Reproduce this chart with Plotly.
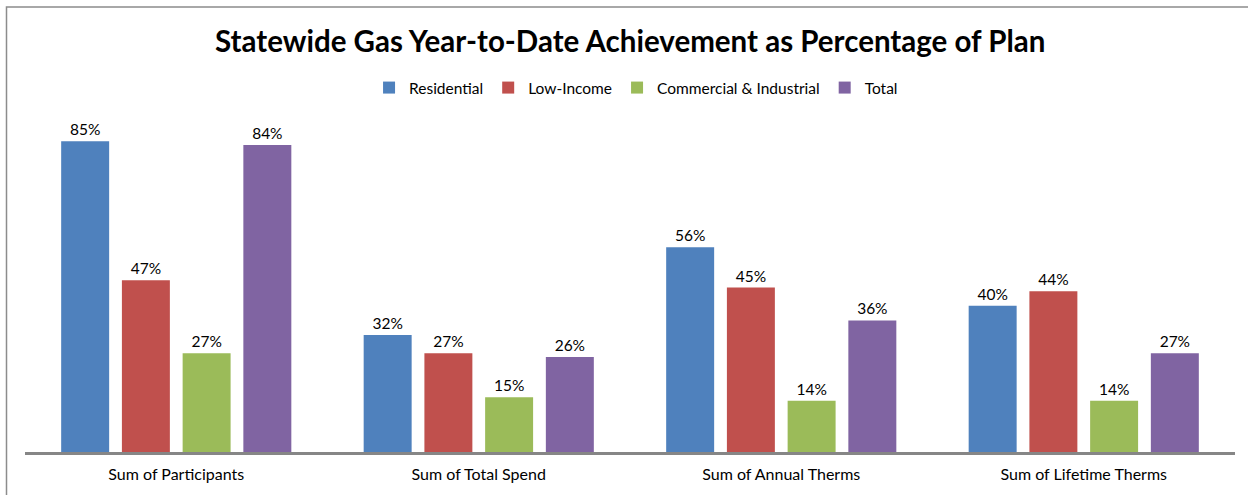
import plotly.graph_objects as go

categories = ["Sum of Participants", "Sum of Total Spend", "Sum of Annual Therms", "Sum of Lifetime Therms"]
residential = [85, 32, 56, 40]
low_income = [47, 27, 45, 44]
commercial = [27, 15, 14, 14]
total = [84, 26, 36, 27]

series = [
    ("Residential", residential, "#4F81BD"),
    ("Low-Income", low_income, "#C0504D"),
    ("Commercial & Industrial", commercial, "#9BBB59"),
    ("Total", total, "#8064A2"),
]

W, H = 1248, 495
ml, mr, mt, mb = 25, 13, 123, 43

fig = go.Figure()
for name, vals, col in series:
    fig.add_trace(go.Bar(
        name=name, x=categories, y=vals, marker=dict(color=col, line=dict(width=0)),
        text=[f"{v}%" for v in vals], textposition="outside",
        textfont=dict(size=15.5, color="#000000", family="Lato"),
        cliponaxis=False,
    ))

pw = W - ml - mr
ph = H - mt - mb
x0 = (6.5 - ml) / pw
y1 = (H - mb - 7) / ph

fig.update_layout(
    width=W, height=H,
    margin=dict(l=ml, r=mr, t=mt, b=mb, autoexpand=False),
    paper_bgcolor="white", plot_bgcolor="white",
    barmode="group", bargap=0.197, bargroupgap=0.21,
    title=dict(text="<b>Statewide Gas Year-to-Date Achievement as Percentage of Plan</b>",
               x=0.505, xanchor="center", y=1 - 42 / H, yanchor="middle",
               font=dict(family="Lato", size=29.5, color="#000000")),
    legend=dict(orientation="h", x=0.505, xanchor="center", y=1 - 88 / H, yref="container",
                yanchor="middle", font=dict(family="Lato", size=15.5, color="#000000"),
                itemwidth=30, traceorder="normal"),
    showlegend=True,
    font=dict(family="Lato"),
    xaxis=dict(showline=True, linecolor="#868686", linewidth=2.5, ticks="",
               ticklabelstandoff=6,
               tickfont=dict(size=16, color="#000000", family="Lato"), showgrid=False),
    yaxis=dict(range=[0, 90], visible=False, showgrid=False, zeroline=False),
    shapes=[dict(type="rect", xref="paper", yref="paper", x0=x0, x1=1.2, y0=-0.5, y1=y1,
                 line=dict(color="#8C8C8C", width=1.5), fillcolor="rgba(0,0,0,0)", layer="below")],
)

fig.write_html("out.html", config={"displayModeBar": False},
               post_script="document.body.style.margin='0';")
